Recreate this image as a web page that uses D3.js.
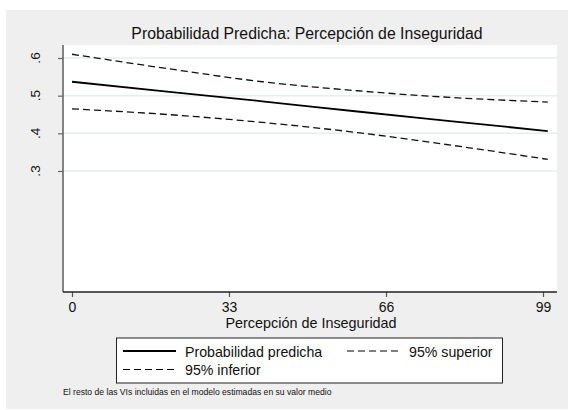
<!DOCTYPE html>
<html>
<head>
<meta charset="utf-8">
<script src="https://cdn.jsdelivr.net/npm/d3@7"></script>
<style>
  html, body { margin: 0; padding: 0; background: #fff; }
  svg { display: block; font-family: "Liberation Sans", Arial, sans-serif; }
</style>
</head>
<body>
<svg id="chart" width="568" height="410"></svg>
<script>
// Predicted probability by perceived insecurity, with 95% bounds
const xValues  = [0, 20, 40, 60, 80, 100];
const predicha = [0.537, 0.511, 0.485, 0.458, 0.432, 0.406];
const superior = [0.610, 0.572, 0.537, 0.513, 0.495, 0.483];
const inferior = [0.465, 0.450, 0.429, 0.402, 0.368, 0.331];
const xTicks = [0, 33, 66, 99];
const yTicks = [0.3, 0.4, 0.5, 0.6];
const yTickLabels = [".3", ".4", ".5", ".6"];

const svg = d3.select("#chart");

// outer graph region
svg.append("rect").attr("x", 6).attr("y", 10).attr("width", 562).attr("height", 399)
  .attr("fill", "#efefef");

const plot = { left: 63, right: 557, top: 45, bottom: 292 };

svg.append("rect").attr("x", plot.left).attr("y", plot.top)
  .attr("width", plot.right - plot.left).attr("height", plot.bottom - plot.top)
  .attr("fill", "#ffffff");

const x = d3.scaleLinear().domain([0, 99]).range([72, 543]);
const y = d3.scaleLinear().domain([0.3, 0.6]).range([171, 58]);

// grid
svg.append("g").selectAll("line").data(yTicks).join("line")
  .attr("x1", plot.left).attr("x2", plot.right)
  .attr("y1", d => y(d)).attr("y2", d => y(d))
  .attr("stroke", "#e6eeee").attr("stroke-width", 1.5);

// axes
const yAxis = d3.axisLeft(y).tickValues(yTicks).tickSize(5).tickFormat((d, i) => yTickLabels[i]);
const gy = svg.append("g").attr("transform", `translate(${plot.left},0)`).call(yAxis);
gy.select(".domain").remove();
gy.selectAll(".tick line").attr("stroke", "#666").attr("stroke-width", 1.2);
gy.selectAll(".tick text").remove();
svg.append("line").attr("x1", plot.left).attr("x2", plot.left)
  .attr("y1", plot.top).attr("y2", plot.bottom)
  .attr("stroke", "#666").attr("stroke-width", 1.6);
svg.append("g").selectAll("text").data(yTicks).join("text")
  .attr("transform", d => `translate(40,${y(d)}) rotate(-90)`)
  .attr("text-anchor", "middle").attr("font-size", 13.5).attr("fill", "#111")
  .text((d, i) => yTickLabels[i]);

const xAxis = d3.axisBottom(x).tickValues(xTicks).tickSize(5).tickFormat(d3.format("d"));
const gx = svg.append("g").attr("transform", `translate(0,${plot.bottom})`).call(xAxis);
gx.select(".domain").remove();
gx.selectAll(".tick line").attr("stroke", "#555").attr("stroke-width", 1.2);
gx.selectAll(".tick text").attr("font-size", 14).attr("fill", "#111")
  .attr("font-family", "Liberation Sans, Arial, sans-serif").attr("y", 10).attr("dy", "0.71em");
svg.append("line").attr("x1", plot.left).attr("x2", plot.right)
  .attr("y1", plot.bottom).attr("y2", plot.bottom)
  .attr("stroke", "#222").attr("stroke-width", 1.6);

// series
const line = d3.line().x((d, i) => x(xValues[i])).y(d => y(d)).curve(d3.curveMonotoneX);
svg.append("path").datum(superior).attr("d", line).attr("fill", "none")
  .attr("stroke", "#111").attr("stroke-width", 1.3).attr("stroke-dasharray", "7,4");
svg.append("path").datum(inferior).attr("d", line).attr("fill", "none")
  .attr("stroke", "#111").attr("stroke-width", 1.3).attr("stroke-dasharray", "7,4");
svg.append("path").datum(predicha).attr("d", line).attr("fill", "none")
  .attr("stroke", "#000").attr("stroke-width", 1.8);

// titles
svg.append("text").attr("x", 307).attr("y", 39).attr("text-anchor", "middle")
  .attr("font-size", 15.8).attr("fill", "#111")
  .text("Probabilidad Predicha: Percepción de Inseguridad");
svg.append("text").attr("x", 311).attr("y", 328).attr("text-anchor", "middle")
  .attr("font-size", 14.4).attr("fill", "#111")
  .text("Percepción de Inseguridad");

// legend
const lg = svg.append("g");
lg.append("rect").attr("x", 116.5).attr("y", 338).attr("width", 386).attr("height", 45)
  .attr("fill", "#fff").attr("stroke", "#222").attr("stroke-width", 1);
const legendItems = [
  { label: "Probabilidad predicha", x: 123, y: 351, dash: null, w: 1.8 },
  { label: "95% superior", x: 347, y: 351, dash: "7,4", w: 1.2 },
  { label: "95% inferior", x: 123, y: 369.5, dash: "7,4", w: 1.2 }
];
legendItems.forEach(it => {
  lg.append("line").attr("x1", it.x).attr("x2", it.x + 53).attr("y1", it.y).attr("y2", it.y)
    .attr("stroke", "#000").attr("stroke-width", it.w)
    .attr("stroke-dasharray", it.dash);
  lg.append("text").attr("x", it.x + 62).attr("y", it.y + 5.5)
    .attr("font-size", 14.2).attr("fill", "#111").text(it.label);
});

// note
svg.append("text").attr("x", 63).attr("y", 395).attr("font-size", 8.6).attr("fill", "#111")
  .text("El resto de las VIs incluidas en el modelo estimadas en su valor medio");
</script>
</body>
</html>
